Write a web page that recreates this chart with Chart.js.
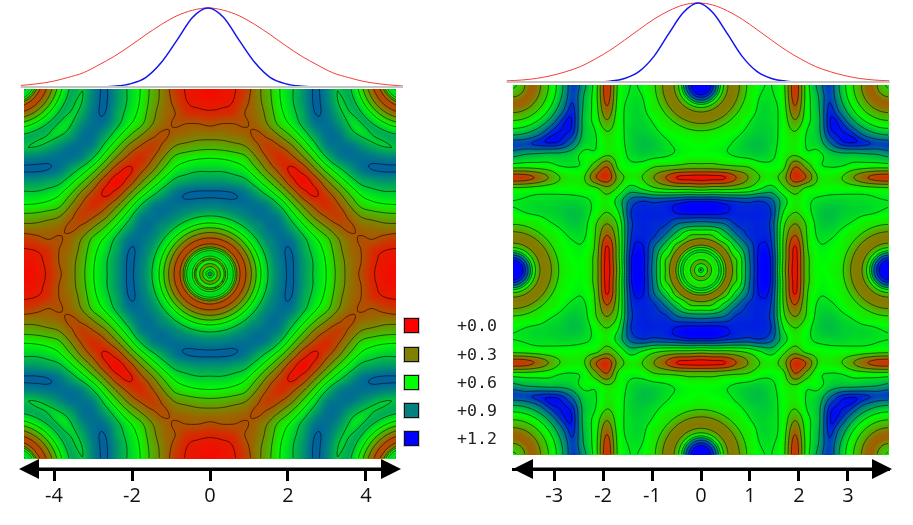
<!DOCTYPE html>
<html>
<head>
<meta charset="utf-8">
<title>Contour maps</title>
<script src="https://cdn.jsdelivr.net/npm/chart.js@4/dist/chart.umd.min.js"></script>
<style>
  html, body { margin: 0; padding: 0; background: #fff; width: 913px; height: 525px; overflow: hidden; }
  canvas { position: absolute; }
  .key { position: absolute; left: 404px; width: 13px; height: 13px; border: 1.5px solid #111; outline: 1px solid #ccc; }
  .keyLabel { position: absolute; left: 457px; font: 16.6px "DejaVu Sans Mono", monospace; color: #222; line-height: 20px; }
</style>
</head>
<body>
<canvas id="gaussLeft" width="400" height="92" style="left:10px;top:0"></canvas>
<canvas id="gaussRight" width="400" height="90" style="left:500px;top:0"></canvas>
<canvas id="mapLeft" width="402" height="432" style="left:0;top:89px"></canvas>
<canvas id="mapRight" width="400" height="436" style="left:505px;top:85px"></canvas>
<div id="legend"></div>
<script>
// ===== Values =====
// Colour key
const keyValues = [0.0, 0.3, 0.6, 0.9, 1.2];
const keyColors = [[255, 0, 0], [128, 128, 0], [0, 255, 0], [0, 128, 128], [0, 0, 255]];
const keyLabels = ['+0.0', '+0.3', '+0.6', '+0.9', '+1.2'];

// Axis ticks
const leftTicks = [-4, -2, 0, 2, 4];
const rightTicks = [-3, -2, -1, 0, 1, 2, 3];

// Top curves, left panel
const leftCurveX = [-4.8, -4.4, -4, -3.6, -3.2, -2.8, -2.4, -2, -1.6, -1.2, -0.8, -0.4, 0, 0.4, 0.8, 1.2, 1.6, 2, 2.4, 2.8, 3.2, 3.6, 4, 4.4, 4.8, 5];
const leftCurveRed = [0.02, 0.04, 0.07, 0.12, 0.18, 0.28, 0.39, 0.52, 0.66, 0.79, 0.9, 0.97, 1, 0.97, 0.9, 0.79, 0.66, 0.52, 0.39, 0.28, 0.18, 0.12, 0.07, 0.04, 0.02, 0.012];
const leftCurveBlue = [0, 0, 0, 0, 0, 0, 0.01, 0.04, 0.12, 0.31, 0.59, 0.88, 1, 0.88, 0.59, 0.31, 0.12, 0.04, 0.01, 0, 0, 0, 0, 0, 0, 0];

// Top curves, right panel
const rightCurveX = [-3.9, -3.6, -3.3, -3, -2.7, -2.4, -2.1, -1.8, -1.5, -1.2, -0.9, -0.6, -0.3, 0, 0.3, 0.6, 0.9, 1.2, 1.5, 1.8, 2.1, 2.4, 2.7, 3, 3.3, 3.6, 3.9];
const rightCurveRed = [0.015, 0.025, 0.045, 0.08, 0.13, 0.195, 0.29, 0.4, 0.53, 0.665, 0.795, 0.9, 0.975, 1, 0.975, 0.9, 0.795, 0.665, 0.53, 0.4, 0.29, 0.195, 0.13, 0.08, 0.045, 0.025, 0.015];
const rightCurveBlue = [0, 0, 0, 0, 0, 0, 0.002, 0.011, 0.045, 0.135, 0.325, 0.61, 0.88, 1, 0.88, 0.61, 0.325, 0.135, 0.045, 0.011, 0.002, 0, 0, 0, 0, 0, 0];

// Map values x100, one quadrant from the centre outwards; both maps are mirror symmetric
const leftGrid = [
  [90,55,55,20,50,72,90,97,85,72,60,42,28,18,8,4,2],
  [55,55,50,25,52,74,91,97,85,72,59,41,28,20,9,5,4],
  [55,50,30,32,62,80,93,96,82,69,56,38,26,20,11,7,6],
  [20,25,32,50,72,87,94,92,78,63,50,34,24,19,20,16,13],
  [50,52,62,72,82,93,93,82,65,48,34,23,18,24,26,28,28],
  [72,74,80,87,93,93,88,68,48,30,19,14,23,34,38,41,42],
  [90,91,93,94,93,88,72,50,30,16,10,19,34,50,56,59,60],
  [97,97,96,92,82,68,50,30,12,5,16,30,48,63,69,72,72],
  [85,85,82,78,65,48,30,12,2,12,30,48,65,78,82,85,85],
  [72,72,69,63,48,30,16,5,12,30,50,68,82,92,96,97,97],
  [60,59,56,50,34,19,10,16,30,50,72,88,93,94,93,91,90],
  [42,41,38,34,23,14,19,30,48,68,88,93,93,87,80,74,72],
  [28,28,26,24,18,23,34,48,65,82,93,93,82,72,62,52,50],
  [18,20,20,19,24,34,50,63,78,92,94,87,72,50,32,25,20],
  [8,9,11,20,26,38,56,69,82,96,93,80,62,32,30,50,55],
  [4,5,7,16,28,41,59,72,85,97,91,74,52,25,50,55,55],
  [2,4,6,13,28,42,60,72,85,97,90,72,50,20,55,55,90]
];
const rightGrid = [
  [90,55,60,50,88,118,112,45,3,45,60,58,50,30,42,105,120],
  [55,50,60,50,90,118,112,48,4,45,60,60,52,33,45,100,115],
  [60,60,45,70,95,116,108,48,6,48,63,62,55,38,45,75,70],
  [50,50,70,92,108,112,105,50,20,50,67,67,60,48,42,35,30],
  [88,90,95,108,110,112,103,55,35,52,70,73,68,62,52,50,45],
  [118,118,116,112,112,112,106,65,50,60,72,75,72,70,68,65,62],
  [112,112,108,105,103,106,98,72,55,62,68,70,70,68,68,66,65],
  [45,48,48,50,55,65,72,55,42,55,58,60,60,60,58,56,55],
  [3,4,6,20,35,50,55,42,10,22,52,55,50,35,22,14,12],
  [45,45,48,50,52,60,62,55,22,42,62,66,65,60,58,57,58],
  [60,60,63,67,70,72,68,58,52,62,62,72,76,76,78,80,85],
  [58,60,62,67,73,75,70,60,55,66,72,95,112,115,110,105,108],
  [50,52,55,60,68,72,70,60,50,65,76,112,115,105,82,75,78],
  [30,33,38,48,62,70,68,60,35,60,76,115,105,78,60,55,55],
  [42,45,45,42,52,68,68,58,22,58,78,110,82,60,45,30,35],
  [105,100,75,35,50,65,66,56,14,57,80,105,75,55,30,25,30],
  [120,115,70,30,45,62,65,55,12,58,85,108,78,55,35,30,55]
];

// Fine rings: radius in axis units, value x100
const leftCoreRadius = [0, 0.05, 0.1, 0.15, 0.23, 0.31, 0.38, 0.46, 0.54, 0.62, 0.69, 0.79, 0.9, 1.03, 1.15, 1.28, 1.41, 1.54, 1.7, 1.85];
const leftCoreValue = [90, 75, 60, 55, 35, 60, 40, 62, 72, 55, 32, 17, 18, 30, 42, 58, 68, 78, 90, 93];
const rightCoreRadius = [0, 0.04, 0.08, 0.12, 0.18, 0.24, 0.31, 0.39, 0.45, 0.51, 0.57, 0.63, 0.69, 0.78];
const rightCoreValue = [90, 70, 55, 55, 35, 60, 50, 72, 55, 35, 25, 32, 45, 55];
const rightEdgeRadius = [0, 0.16, 0.24, 0.33, 0.41, 0.51, 0.61, 0.73, 0.86, 0.98, 1.14];
const rightEdgeValue = [120, 120, 110, 90, 60, 40, 28, 30, 42, 55, 62];
const rightCornerRadius = [0, 0.2, 0.35, 0.47, 0.61, 0.78, 0.94, 1.1, 1.27];
const rightCornerValue = [55, 40, 22, 25, 40, 55, 70, 90, 105];

// Contour levels
const leftLevels = [0.07, 0.2, 0.33, 0.46, 0.6, 0.74, 0.96];
const rightLevels = [0.07, 0.2, 0.35, 0.5, 0.65, 0.8, 0.95, 1.07, 1.15];

// ===== Field helpers =====
function valueColor(v) {
  const t = Math.max(0, Math.min(3.999, v / 0.3));
  const i = Math.floor(t), f = t - i;
  return keyColors[i].map((c, k) => c + (keyColors[i + 1][k] - c) * f);
}

function catmull(a, b, c, d, t) {
  return b + 0.5 * t * (c - a + t * (2 * a - 5 * b + 4 * c - d + t * (3 * (b - c) + d - a)));
}

function coreAt(radius, values, r) {
  for (let i = 1; i < radius.length; i++) {
    if (r <= radius[i]) {
      const f = (r - radius[i - 1]) / (radius[i] - radius[i - 1]);
      return (values[i - 1] + (values[i] - values[i - 1]) * f) / 100;
    }
  }
  return values[values.length - 1] / 100;
}

// Builds a value lookup in axis units for one map.
// rings: [{ radius, value, cx, cy }], placed in the positive quadrant and mirrored
function makeField(grid, xMax, yMax, rings) {
  const n = 16;
  const cell = (i, j) => grid[Math.min(n, Math.abs(j))][Math.min(n, Math.abs(i))] / 100;
  return function (x, y) {
    const gx = x / xMax * n, gy = y / yMax * n;
    const ix = Math.floor(gx), iy = Math.floor(gy);
    const fx = gx - ix, fy = gy - iy;
    const rows = [];
    for (let j = -1; j <= 2; j++) {
      rows.push(catmull(cell(ix - 1, iy + j), cell(ix, iy + j), cell(ix + 1, iy + j), cell(ix + 2, iy + j), fx));
    }
    let v = catmull(rows[0], rows[1], rows[2], rows[3], fy);
    rings.forEach(ring => {
      const rMax = ring.radius[ring.radius.length - 1];
      const r = Math.hypot(ring.cx - Math.abs(x), ring.cy - Math.abs(y));
      if (r >= rMax) return;
      const w = Math.min(1, (rMax - r) / (rMax * 0.15));
      v = v * (1 - w) + coreAt(ring.radius, ring.value, r) * w;
    });
    return Math.max(0, v);
  };
}

// ===== Plugin: paints the map and contour lines through the chart's scales =====
function mapPlugin(field, xMax, yMax, levels, arrow) {
  return {
    id: 'contourMap',
    beforeDatasetsDraw(chart) {
      const { ctx, scales: { x: sx, y: sy } } = chart;
      const x0 = Math.round(sx.getPixelForValue(-xMax)), x1 = Math.round(sx.getPixelForValue(xMax));
      const y0 = Math.round(sy.getPixelForValue(yMax)), y1 = Math.round(sy.getPixelForValue(-yMax));
      const w = x1 - x0, h = y1 - y0;

      const off = document.createElement('canvas');
      off.width = w; off.height = h;
      const octx = off.getContext('2d');
      const img = octx.createImageData(w, h);
      for (let py = 0; py < h; py++) {
        const dy = sy.getValueForPixel(y0 + py + 0.5);
        for (let px = 0; px < w; px++) {
          const c = valueColor(field(sx.getValueForPixel(x0 + px + 0.5), dy));
          const o = (py * w + px) * 4;
          img.data[o] = c[0]; img.data[o + 1] = c[1]; img.data[o + 2] = c[2]; img.data[o + 3] = 255;
        }
      }
      octx.putImageData(img, 0, 0);
      ctx.drawImage(off, x0, y0);

      // Marching squares on a 1.5px lattice
      const step = 1.5, cols = Math.floor(w / step), lines = Math.floor(h / step);
      const vals = [];
      for (let j = 0; j <= lines; j++) {
        const row = [];
        const dy = sy.getValueForPixel(y0 + j * step);
        for (let i = 0; i <= cols; i++) row.push(field(sx.getValueForPixel(x0 + i * step), dy));
        vals.push(row);
      }
      ctx.save();
      ctx.beginPath();
      ctx.rect(x0, y0, w, h);
      ctx.clip();
      ctx.strokeStyle = 'rgba(0, 0, 0, 0.72)';
      ctx.lineWidth = 0.8;
      ctx.beginPath();
      levels.forEach(level => {
        for (let j = 0; j < lines; j++) {
          for (let i = 0; i < cols; i++) {
            const a = vals[j][i], b = vals[j][i + 1], c = vals[j + 1][i + 1], d = vals[j + 1][i];
            const pts = [];
            if ((a < level) !== (b < level)) pts.push([i + (level - a) / (b - a), j]);
            if ((b < level) !== (c < level)) pts.push([i + 1, j + (level - b) / (c - b)]);
            if ((d < level) !== (c < level)) pts.push([i + (level - d) / (c - d), j + 1]);
            if ((a < level) !== (d < level)) pts.push([i, j + (level - a) / (d - a)]);
            for (let k = 0; k + 1 < pts.length; k += 2) {
              ctx.moveTo(x0 + pts[k][0] * step, y0 + pts[k][1] * step);
              ctx.lineTo(x0 + pts[k + 1][0] * step, y0 + pts[k + 1][1] * step);
            }
          }
        }
      });
      ctx.stroke();
      ctx.restore();
    },
    afterDraw(chart) {
      // Arrow heads on the number line
      const { ctx, chartArea: area } = chart;
      const yLine = area.bottom;
      const lx = arrow[0], rx = arrow[1];
      ctx.save();
      ctx.fillStyle = '#000';
      ctx.fillRect(lx + 10, yLine - 1.5, rx - lx - 20, 3);
      ctx.beginPath();
      ctx.moveTo(lx, yLine); ctx.lineTo(lx + 20, yLine - 10); ctx.lineTo(lx + 20, yLine + 10); ctx.closePath();
      ctx.moveTo(rx, yLine); ctx.lineTo(rx - 20, yLine - 10); ctx.lineTo(rx - 20, yLine + 10); ctx.closePath();
      ctx.fill();
      ctx.restore();
    }
  };
}

// ===== Chart builders =====
function createMap(id, grid, ticks, xMax, yMax, yLow, field, levels, pad, arrow) {
  const cells = [];
  grid.forEach((row, j) => row.forEach((v, i) => cells.push({ x: i / 16 * xMax, y: j / 16 * yMax, v: v / 100 })));
  return new Chart(document.getElementById(id), {
    type: 'scatter',
    data: { datasets: [{ data: cells, pointRadius: 0, pointHoverRadius: 0 }] },
    options: {
      responsive: false,
      devicePixelRatio: 1,
      animation: false,
      layout: { padding: { left: pad[0], right: pad[1], top: 0, bottom: 0 } },
      plugins: { legend: { display: false }, tooltip: { enabled: false } },
      scales: {
        x: {
          type: 'linear',
          min: -xMax,
          max: xMax,
          afterBuildTicks: s => { s.ticks = ticks.map(v => ({ value: v })); },
          afterFit: s => { s.height = 52; },
          border: { color: '#000', width: 3 },
          grid: { drawOnChartArea: false, color: '#000', tickColor: '#000', tickLength: 12, tickWidth: 3 },
          ticks: {
            color: '#111',
            padding: 3,
            maxRotation: 0,
            autoSkip: false,
            font: { family: "'Open Sans', sans-serif", size: 20 },
            callback: v => String(v)
          }
        },
        y: { type: 'linear', display: false, min: yLow, max: yMax }
      }
    },
    plugins: [mapPlugin(field, xMax, yMax, levels, arrow)]
  });
}

function createCurves(id, xs, red, blue, xRange, yRange) {
  const pairs = (ys) => xs.map((x, i) => ({ x, y: ys[i] }));
  const base = [{ x: xs[0], y: 0 }, { x: xs[xs.length - 1], y: 0 }];
  return new Chart(document.getElementById(id), {
    type: 'scatter',
    data: {
      datasets: [
        { data: base, showLine: true, borderColor: '#c4c4c4', borderWidth: 2, pointRadius: 0 },
        { data: pairs(blue), showLine: true, borderColor: '#1414f0', borderWidth: 1.5, pointRadius: 0, cubicInterpolationMode: 'monotone' },
        { data: pairs(red), showLine: true, borderColor: '#f53c3c', borderWidth: 1, pointRadius: 0, cubicInterpolationMode: 'monotone' }
      ]
    },
    options: {
      responsive: false,
      devicePixelRatio: 1,
      animation: false,
      plugins: { legend: { display: false }, tooltip: { enabled: false } },
      scales: {
        x: { type: 'linear', display: false, min: xRange[0], max: xRange[1] },
        y: { type: 'linear', display: false, min: yRange[0], max: yRange[1] }
      }
    }
  });
}

function buildLegend() {
  const legend = document.getElementById('legend');
  const tops = [318, 346.5, 374.5, 403, 431];
  keyValues.forEach((v, i) => {
    const box = document.createElement('div');
    box.className = 'key';
    box.style.top = tops[i] + 'px';
    box.style.background = `rgb(${keyColors[i].join(',')})`;
    const label = document.createElement('div');
    label.className = 'keyLabel';
    label.style.top = (tops[i] - 2) + 'px';
    label.textContent = keyLabels[i];
    legend.appendChild(box);
    legend.appendChild(label);
  });
}

// ===== Page =====
const leftField = makeField(leftGrid, 4.77, 4.74, [
  { radius: leftCoreRadius, value: leftCoreValue, cx: 0, cy: 0 },
  { radius: leftCoreRadius, value: leftCoreValue, cx: 5.07, cy: 5.04 }
]);
const rightField = makeField(rightGrid, 3.84, 3.78, [
  { radius: rightCoreRadius, value: rightCoreValue, cx: 0, cy: 0 },
  { radius: rightEdgeRadius, value: rightEdgeValue, cx: 3.84, cy: 0 },
  { radius: rightEdgeRadius, value: rightEdgeValue, cx: 0, cy: 3.78 },
  { radius: rightCornerRadius, value: rightCornerValue, cx: 3.84, cy: 3.78 }
]);

createCurves('gaussLeft', leftCurveX, leftCurveRed, leftCurveBlue, [-5.08, 5.18], [-0.063, 1.1]);
createCurves('gaussRight', rightCurveX, rightCurveRed, rightCurveBlue, [-4.04, 4.12], [-0.101, 1.038]);
createMap('mapLeft', leftGrid, leftTicks, 4.77, 4.74, -5.0, leftField, leftLevels, [24, 6], [19, 401]);
createMap('mapRight', rightGrid, rightTicks, 3.84, 3.78, -4.06, rightField, rightLevels, [8, 16], [8, 387]);
buildLegend();
</script>
</body>
</html>
